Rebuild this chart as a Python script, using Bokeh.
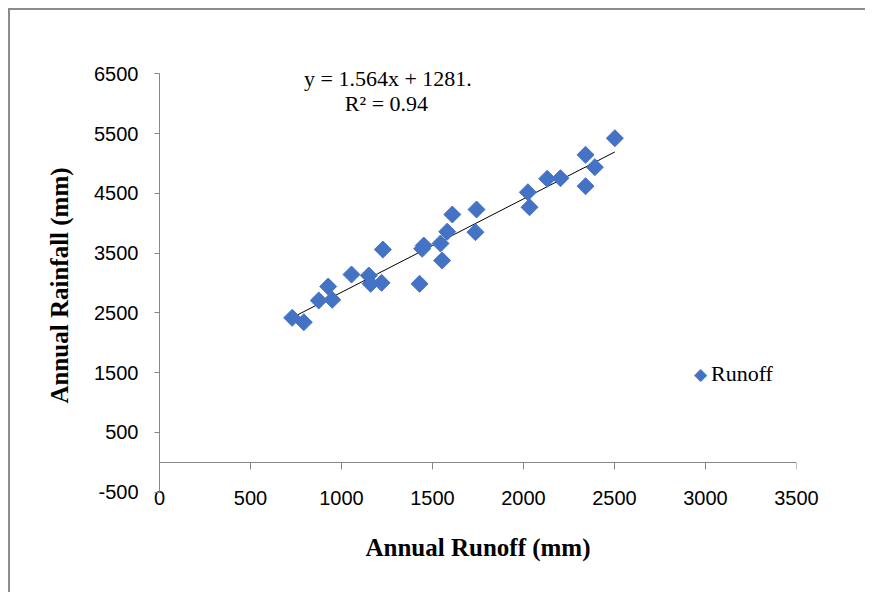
from bokeh.plotting import figure
from bokeh.models import (LinearAxis, FixedTicker, Label, Range1d,
                          NumeralTickFormatter)
from bokeh.embed import file_html
from bokeh.resources import INLINE
import math

# ---- data ----
runoff = [729, 793, 875, 927, 949, 1055, 1150, 1160, 1220, 1227,
          1429, 1443, 1452, 1544, 1553, 1581, 1609, 1736, 1742,
          2024, 2033, 2130, 2203, 2341, 2341, 2392, 2502]
rainfall = [2418, 2345, 2708, 2942, 2720, 3143, 3126, 2987, 3004, 3561,
            2987, 3573, 3628, 3662, 3377, 3860, 4147, 3851, 4231,
            4520, 4269, 4745, 4755, 5146, 4621, 4939, 5424]
slope = 1.564
intercept = 1281
eq_text = "y = 1.564x + 1281."
r2_text = "R\u00b2 = 0.94"
legend_label = "Runoff"
x_ticks = [0, 500, 1000, 1500, 2000, 2500, 3000, 3500]
y_ticks = [-500, 500, 1500, 2500, 3500, 4500, 5500, 6500]

AXIS_GRAY = "#868686"
BLUE = "#4472C4"
SANS = "Liberation Sans, Arial, sans-serif"
SERIF = "Liberation Serif, Times New Roman, serif"

p = figure(width=855, height=582, output_backend="svg", toolbar_location=None,
           x_range=Range1d(0, 3500), y_range=Range1d(-840, 6758),
           x_axis_type=None, y_axis_type=None,
           min_border_left=149, min_border_right=69,
           min_border_top=48, min_border_bottom=80,
           frame_width=637, frame_height=454)
p.styles = {"border-left": "2px solid #8c8c8c", "border-top": "2px solid #8c8c8c",
            "margin-left": "8px", "margin-top": "8px"}
p.outline_line_color = None
p.background_fill_color = "white"
p.border_fill_color = "white"

# y axis
yax = LinearAxis(ticker=FixedTicker(ticks=y_ticks), bounds=(-500, 6500),
                 formatter=NumeralTickFormatter(format="0"))
yax.axis_line_color = AXIS_GRAY
yax.major_tick_line_color = AXIS_GRAY
yax.major_tick_out = 5
yax.major_tick_in = 0
yax.minor_tick_line_color = None
yax.major_label_text_font = SANS
yax.major_label_text_font_size = "20px"
yax.major_label_text_color = "black"
yax.major_label_standoff = 16
yax.axis_label = "Annual Rainfall (mm)"
yax.axis_label_text_font = SERIF
yax.axis_label_text_font_style = "bold"
yax.axis_label_text_font_size = "25px"
yax.axis_label_text_color = "black"
yax.axis_label_standoff = 18
p.add_layout(yax, "left")

# x axis tick labels and title ("low" label position)
xax = LinearAxis(ticker=FixedTicker(ticks=x_ticks),
                 formatter=NumeralTickFormatter(format="0"))
xax.axis_line_color = None
xax.major_tick_line_color = None
xax.minor_tick_line_color = None
xax.major_label_text_font = SANS
xax.major_label_text_font_size = "20px"
xax.major_label_text_color = "black"
xax.major_label_standoff = -28
xax.axis_label = "Annual Runoff (mm)"
xax.axis_label_text_font = SERIF
xax.axis_label_text_font_style = "bold"
xax.axis_label_text_font_size = "25px"
xax.axis_label_text_color = "black"
xax.axis_label_standoff = 26
p.add_layout(xax, "below")

# x axis line and ticks crossing at y = 0
xline = LinearAxis(ticker=FixedTicker(ticks=x_ticks), fixed_location=0)
xline.axis_line_color = AXIS_GRAY
xline.major_tick_line_color = AXIS_GRAY
xline.major_tick_out = 7
xline.major_tick_in = 0
xline.minor_tick_line_color = None
xline.major_label_text_color = None
xline.major_label_standoff = 0
p.add_layout(xline, "below")

# trendline
x0, x1 = min(runoff), max(runoff)
p.line([x0, x1], [slope * x0 + intercept, slope * x1 + intercept],
       line_color="black", line_width=1)

# scatter points (diamonds = squares rotated 45 degrees)
p.scatter(runoff, rainfall, marker="square", size=12, angle=math.pi / 4,
          fill_color=BLUE, line_color=BLUE)

# legend (marker + label)
p.add_layout(Label(x=2973, y=1486, text="\u25c6", text_align="center",
                   text_baseline="middle", text_font="DejaVu Sans",
                   text_font_size="17px", text_color=BLUE))
p.add_layout(Label(x=3030, y=1486, text=legend_label, text_align="left",
                   text_baseline="middle", text_font=SERIF,
                   text_font_size="22px", text_color="black"))

# trendline equation
p.add_layout(Label(x=1255, y=6423, text=eq_text, text_align="center",
                   text_baseline="middle", text_font=SERIF,
                   text_font_size="22px", text_color="black"))
p.add_layout(Label(x=1247, y=6004, text=r2_text, text_align="center",
                   text_baseline="middle", text_font=SERIF,
                   text_font_size="22px", text_color="black"))

open("out.html", "w").write(file_html(p, INLINE))
